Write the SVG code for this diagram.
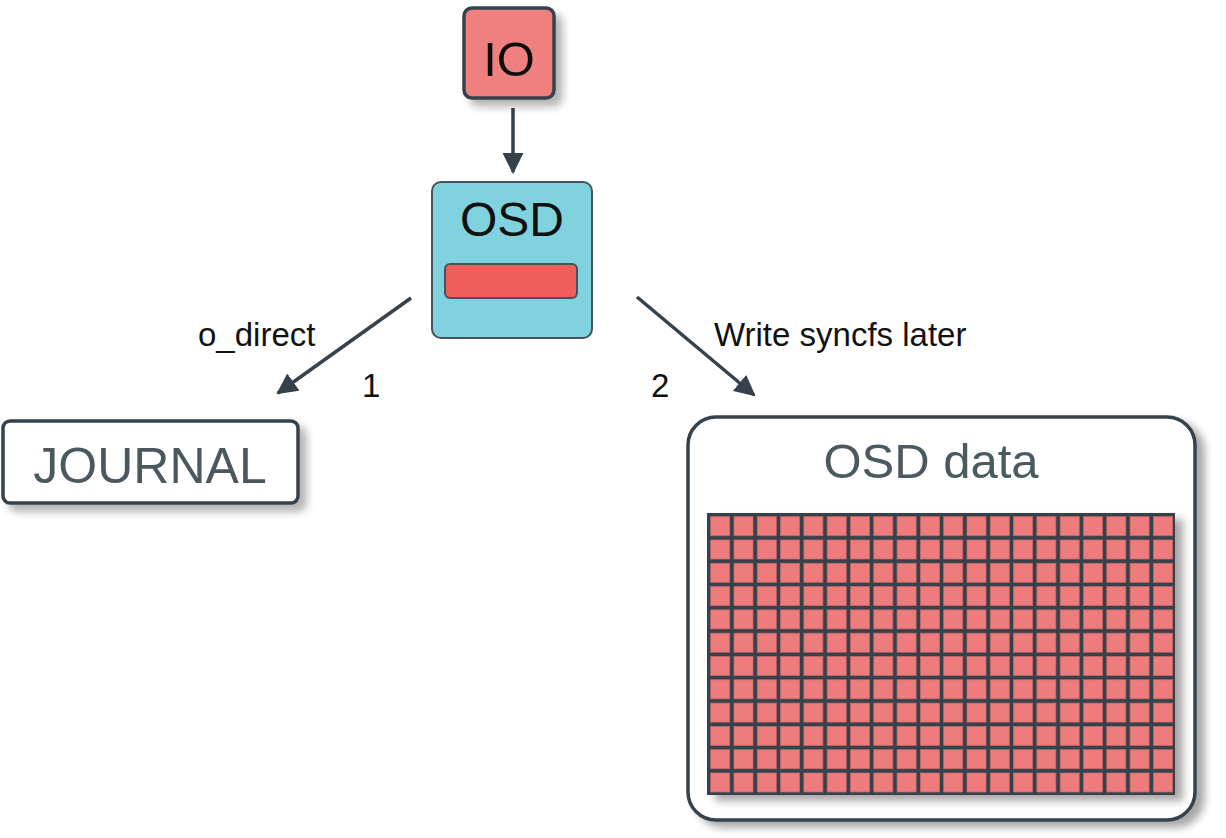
<svg xmlns="http://www.w3.org/2000/svg" width="1226" height="838" viewBox="0 0 1226 838">
<style>
.t{font-family:"Liberation Sans",Arial,sans-serif}
.lbl{font-family:"Liberation Sans",Arial,sans-serif;font-size:33px;fill:#111}
.conn{stroke:#36424b;stroke-width:3.5;fill:none;marker-end:url(#ah)}
.cell{fill:#ef7c7c;stroke:#c9666a;stroke-width:0.8}
</style>
<defs>
<marker id="ah" viewBox="0 0 10 10" refX="9" refY="5" markerWidth="6" markerHeight="6" markerUnits="strokeWidth" orient="auto">
<path d="M0,0 L10,5 L0,10 Z" fill="#36424b"/>
</marker>
<filter id="sh" x="-20%" y="-20%" width="150%" height="150%">
<feGaussianBlur in="SourceAlpha" stdDeviation="4"/>
<feOffset dx="7" dy="7" result="b"/>
<feComponentTransfer><feFuncA type="linear" slope="0.3"/></feComponentTransfer>
<feMerge><feMergeNode/><feMergeNode in="SourceGraphic"/></feMerge>
</filter>
<filter id="sh2" x="-10%" y="-10%" width="130%" height="130%">
<feGaussianBlur in="SourceAlpha" stdDeviation="4"/>
<feOffset dx="8" dy="6" result="b"/>
<feComponentTransfer><feFuncA type="linear" slope="0.35"/></feComponentTransfer>
<feMerge><feMergeNode/><feMergeNode in="SourceGraphic"/></feMerge>
</filter>
</defs>
<rect width="1226" height="838" fill="#fff"/>

<g id="connectors">
<line class="conn" x1="411" y1="298" x2="278" y2="393"/>
<line class="conn" x1="637" y1="297" x2="754" y2="395"/>
<line class="conn" x1="513" y1="108" x2="513" y2="172"/>
<text class="lbl" x="198" y="346">o_direct</text>
<text class="lbl" x="362" y="397">1</text>
<text class="lbl" x="651" y="397">2</text>
<text class="lbl" x="714" y="346">Write syncfs later</text>
</g>

<g id="io" filter="url(#sh)">
<rect x="464" y="8" width="90" height="90" rx="8" fill="#f08080" stroke="#36424b" stroke-width="3.5"/>
<text class="t" x="509" y="76" font-size="49" text-anchor="middle" fill="#111">IO</text>
</g>

<g id="osd">
<rect x="432" y="182" width="160" height="156" rx="9" fill="#80d3de" stroke="#45535c" stroke-width="2"/>
<text class="t" x="512" y="236" font-size="48" text-anchor="middle" fill="#111">OSD</text>
<rect x="445" y="264" width="132" height="34" rx="5" fill="#f05e5a" stroke="#45535c" stroke-width="2"/>
</g>

<g id="journal" filter="url(#sh)">
<rect x="3" y="421" width="295" height="82" rx="7" fill="#fff" stroke="#36424b" stroke-width="3.5"/>
<text class="t" x="150" y="483" font-size="50" text-anchor="middle" fill="#4b5961">JOURNAL</text>
</g>

<g id="osd-data">
<rect x="688" y="417" width="507" height="403" rx="28" fill="#fff" stroke="#36424b" stroke-width="3.5" filter="url(#sh2)"/>
<text class="t" x="931" y="478" font-size="49" text-anchor="middle" fill="#4b5961">OSD data</text>
<g filter="url(#sh2)">
<rect x="707" y="513" width="468" height="282" fill="#36424b"/>
<g id="cells">
<g id="row">
<rect class="cell" x="710.7" y="516.7" width="19" height="19"/>
<rect class="cell" x="734.0" y="516.7" width="19" height="19"/>
<rect class="cell" x="757.3" y="516.7" width="19" height="19"/>
<rect class="cell" x="780.6" y="516.7" width="19" height="19"/>
<rect class="cell" x="803.9" y="516.7" width="19" height="19"/>
<rect class="cell" x="827.2" y="516.7" width="19" height="19"/>
<rect class="cell" x="850.5" y="516.7" width="19" height="19"/>
<rect class="cell" x="873.8" y="516.7" width="19" height="19"/>
<rect class="cell" x="897.1" y="516.7" width="19" height="19"/>
<rect class="cell" x="920.4" y="516.7" width="19" height="19"/>
<rect class="cell" x="943.7" y="516.7" width="19" height="19"/>
<rect class="cell" x="967.0" y="516.7" width="19" height="19"/>
<rect class="cell" x="990.3" y="516.7" width="19" height="19"/>
<rect class="cell" x="1013.6" y="516.7" width="19" height="19"/>
<rect class="cell" x="1036.9" y="516.7" width="19" height="19"/>
<rect class="cell" x="1060.2" y="516.7" width="19" height="19"/>
<rect class="cell" x="1083.5" y="516.7" width="19" height="19"/>
<rect class="cell" x="1106.8" y="516.7" width="19" height="19"/>
<rect class="cell" x="1130.1" y="516.7" width="19" height="19"/>
<rect class="cell" x="1153.4" y="516.7" width="19" height="19"/>
</g>
<use href="#row" y="23.3"/>
<use href="#row" y="46.6"/>
<use href="#row" y="69.9"/>
<use href="#row" y="93.2"/>
<use href="#row" y="116.5"/>
<use href="#row" y="139.8"/>
<use href="#row" y="163.1"/>
<use href="#row" y="186.4"/>
<use href="#row" y="209.7"/>
<use href="#row" y="233.0"/>
<use href="#row" y="256.3"/>
</g>
</g>
</g>
</svg>
